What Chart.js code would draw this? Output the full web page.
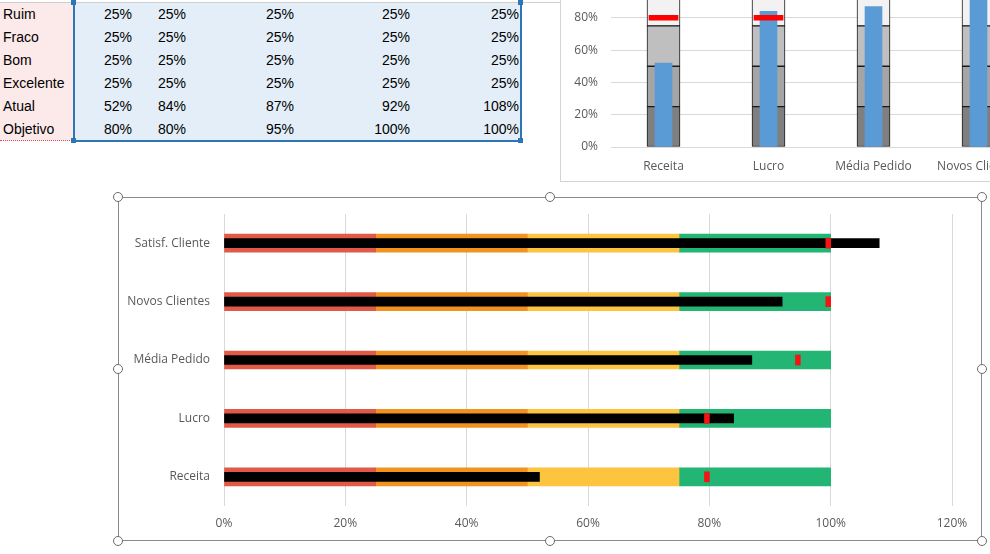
<!DOCTYPE html>
<html>
<head>
<meta charset="utf-8">
<script src="https://cdn.jsdelivr.net/npm/chart.js@4.4.1/dist/chart.umd.min.js"></script>
<style>
  html, body { margin:0; padding:0; background:#fff; width:990px; height:554px; overflow:hidden; position:relative; }
  .abs { position:absolute; }
  .cell { position:absolute; font-family:"Liberation Sans", Arial, sans-serif; font-size:14px; color:#000; line-height:23px; height:23px; white-space:nowrap; }
  .handle { position:absolute; width:8px; height:8px; border:1.2px solid #6b6b6b; border-radius:50%; background:#fff; box-sizing:content-box; }
  .sq { position:absolute; width:5px; height:5px; background:#2E75B6; }
</style>
</head>
<body>
<!-- spreadsheet fragment -->
<div class="abs" style="left:0;top:2px;width:560px;height:1px;background:#cfcfcf;"></div>
<div class="abs" style="left:0;top:3px;width:73px;height:138px;background:#FCE9E9;"></div>
<div class="abs" style="left:73px;top:3px;width:449px;height:138px;background:#E4EEF8;"></div>
<div class="abs" style="left:73px;top:0;width:2px;height:142px;background:#2E75B6;"></div>
<div class="abs" style="left:520px;top:0;width:2px;height:142px;background:#2E75B6;"></div>
<div class="abs" style="left:73px;top:140px;width:449px;height:2px;background:#2E75B6;"></div>
<div class="abs" style="left:0;top:140px;width:72px;height:0;border-top:1.5px dotted #D9534F;"></div>
<div class="sq" style="left:71px;top:138px;"></div>
<div class="sq" style="left:518px;top:138px;"></div>
<div class="sq" style="left:518px;top:0;"></div>
<div class="sq" style="left:71px;top:0;"></div>
<div id="table"></div>

<!-- small column chart (partially visible) -->
<div class="abs" style="left:560px;top:0;width:430px;height:181px;overflow:hidden;border-left:1px solid #d4d4d4;border-bottom:1px solid #d4d4d4;">
  <canvas id="top" class="abs" style="left:0;top:-40px;" width="600" height="221"></canvas>
</div>

<!-- main bullet chart -->
<canvas id="main" class="abs" style="left:118px;top:197px;" width="864" height="344"></canvas>
<div class="abs" style="left:118px;top:197px;width:864px;height:344px;border:1px solid #8a8a8a;box-sizing:border-box;"></div>
<div id="handles"></div>

<script>
// ---------------- data ----------------
const categories = ['Receita', 'Lucro', 'Média Pedido', 'Novos Clientes', 'Satisf. Cliente'];
const rowLabels  = ['Ruim', 'Fraco', 'Bom', 'Excelente', 'Atual', 'Objetivo'];
const ruim       = [25, 25, 25, 25, 25];
const fraco      = [25, 25, 25, 25, 25];
const bom        = [25, 25, 25, 25, 25];
const excelente  = [25, 25, 25, 25, 25];
const atual      = [52, 84, 87, 92, 108];
const objetivo   = [80, 80, 95, 100, 100];
const mainTicks  = [0, 20, 40, 60, 80, 100, 120];
const topTicks   = [0, 20, 40, 60, 80, 100];

// ---------------- table ----------------
const rows = [ruim, fraco, bom, excelente, atual, objetivo];
const colRight = [132, 186, 294, 410, 519];
let html = '';
rows.forEach((r, i) => {
  const top = 2.5 + i * 23;
  html += `<div class="cell" style="left:3px;top:${top}px;">${rowLabels[i]}</div>`;
  r.forEach((v, j) => {
    html += `<div class="cell" style="right:${990 - colRight[j]}px;top:${top}px;text-align:right;">${v}%</div>`;
  });
});
document.getElementById('table').innerHTML = html;

// handles
const hp = [[118,197],[550,197],[982,197],[118,369],[982,369],[118,541],[550,541],[982,541]];
document.getElementById('handles').innerHTML = hp.map(p => `<div class="handle" style="left:${p[0]-5}px;top:${p[1]-5}px;"></div>`).join('');

const pct = v => v + '%';
const FONT = { family: '"Open Sans", "DejaVu Sans", sans-serif', size: 12 };

// ---------------- main bullet chart ----------------
const markerW = 0.8;
new Chart(document.getElementById('main'), {
  type: 'bar',
  data: {
    labels: categories,
    datasets: [
      { label: 'Objetivo', data: objetivo.map(v => [v - markerW, v]), backgroundColor: '#F41414', barThickness: 10, stack: 'obj', order: 0 },
      { label: 'Atual', data: atual, backgroundColor: '#000000', barThickness: 9, stack: 'atual', order: 1 },
      { label: 'Ruim', data: ruim, backgroundColor: '#E05A47', barThickness: 18, stack: 'faixa', order: 2 },
      { label: 'Fraco', data: fraco, backgroundColor: '#F2931F', barThickness: 18, stack: 'faixa', order: 2 },
      { label: 'Bom', data: bom, backgroundColor: '#FCC43F', barThickness: 18, stack: 'faixa', order: 2 },
      { label: 'Excelente', data: excelente, backgroundColor: '#22B573', barThickness: 18, stack: 'faixa', order: 2 }
    ]
  },
  options: {
    indexAxis: 'y',
    responsive: false,
    animation: false,
    devicePixelRatio: 1,
    datasets: { bar: { grouped: false, borderWidth: 0 } },
    layout: { padding: { top: 17, right: 30, left: 0, bottom: 0 } },
    plugins: { legend: { display: false }, tooltip: { enabled: false } },
    scales: {
      x: {
        stacked: true, min: 0, max: 120,
        afterBuildTicks: s => { s.ticks = mainTicks.map(v => ({ value: v })); },
        afterFit: s => { s.height = 35; },
        grid: { color: '#D9D9D9', drawTicks: false, lineWidth: 1 },
        border: { display: false },
        ticks: { callback: pct, color: '#595959', font: FONT, padding: 10 }
      },
      y: {
        reverse: true,
        afterFit: s => { s.width = 106; s.paddingTop = 0; s.paddingBottom = 0; },
        grid: { display: false, drawTicks: false },
        border: { display: false },
        ticks: { color: '#595959', font: FONT, padding: 14 }
      }
    }
  }
});

// ---------------- top column chart ----------------
new Chart(document.getElementById('top'), {
  type: 'bar',
  data: {
    labels: categories,
    datasets: [
      { label: 'Objetivo', data: objetivo.map(v => [v - 1.5, v + 1.5]), backgroundColor: '#FF0000', barThickness: 29, stack: 'obj', order: 0 },
      { label: 'Atual', data: atual, backgroundColor: '#5B9BD5', barThickness: 17, stack: 'atual', order: 1 },
      { label: 'Ruim', data: ruim, backgroundColor: '#7F7F7F', borderColor: '#1a1a1a', borderWidth: 1, borderSkipped: false, barThickness: 33, stack: 'faixa', order: 2 },
      { label: 'Fraco', data: fraco, backgroundColor: '#A5A5A5', borderColor: '#1a1a1a', borderWidth: 1, borderSkipped: false, barThickness: 33, stack: 'faixa', order: 2 },
      { label: 'Bom', data: bom, backgroundColor: '#BFBFBF', borderColor: '#1a1a1a', borderWidth: 1, borderSkipped: false, barThickness: 33, stack: 'faixa', order: 2 },
      { label: 'Excelente', data: excelente, backgroundColor: '#F2F2F2', borderColor: '#1a1a1a', borderWidth: 1, borderSkipped: false, barThickness: 33, stack: 'faixa', order: 2 }
    ]
  },
  options: {
    responsive: false,
    animation: false,
    devicePixelRatio: 1,
    datasets: { bar: { grouped: false } },
    layout: { padding: { top: 25.5, right: 25, left: 0, bottom: 0 } },
    plugins: { legend: { display: false }, tooltip: { enabled: false } },
    scales: {
      y: {
        stacked: true, min: 0, max: 100,
        afterBuildTicks: s => { s.ticks = topTicks.map(v => ({ value: v })); },
        afterFit: s => { s.width = 50; },
        grid: { color: '#D9D9D9', drawTicks: false },
        border: { display: false },
        ticks: { callback: pct, color: '#595959', font: FONT, padding: 13 }
      },
      x: {
        afterFit: s => { s.height = 34; },
        grid: { display: false, drawTicks: false },
        border: { display: true, color: '#D9D9D9' },
        ticks: { color: '#595959', font: FONT, padding: 12, autoSkip: false, maxRotation: 0 }
      }
    }
  }
});
</script>
</body>
</html>
